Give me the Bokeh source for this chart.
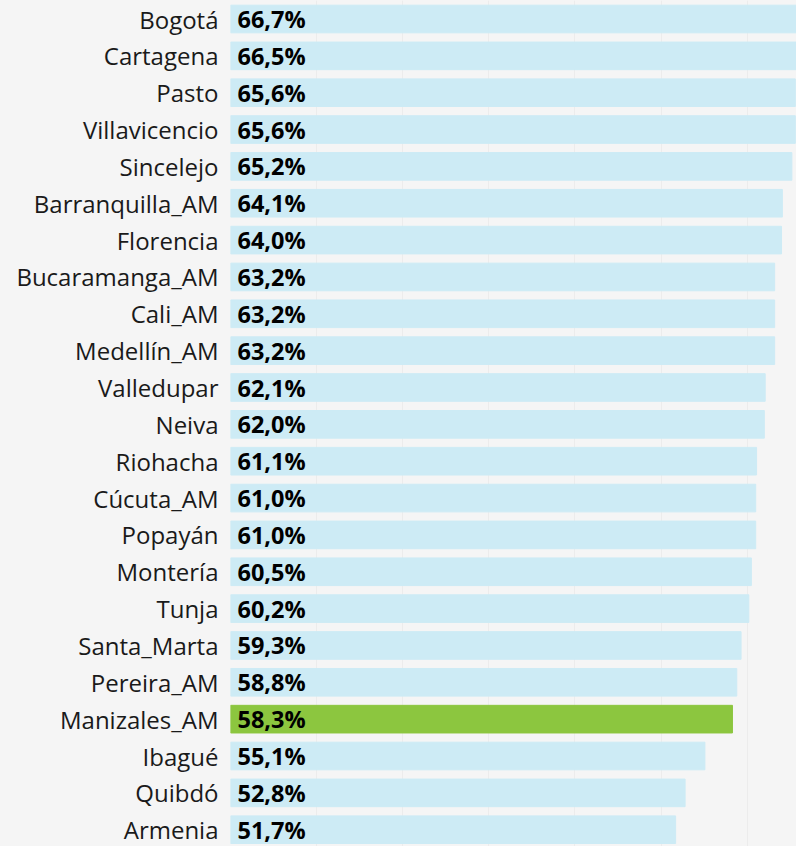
from bokeh.plotting import figure
from bokeh.models import ColumnDataSource, Range1d, FixedTicker, SingleIntervalTicker
from bokeh.core.properties import value
from bokeh.embed import file_html
from bokeh.resources import INLINE

cities = ["Bogotá", "Cartagena", "Pasto", "Villavicencio", "Sincelejo",
          "Barranquilla_AM", "Florencia", "Bucaramanga_AM", "Cali_AM",
          "Medellín_AM", "Valledupar", "Neiva", "Riohacha", "Cúcuta_AM",
          "Popayán", "Montería", "Tunja", "Santa_Marta", "Pereira_AM",
          "Manizales_AM", "Ibagué", "Quibdó", "Armenia"]
values = [66.7, 66.5, 65.6, 65.6, 65.2, 64.1, 64.0, 63.2, 63.2, 63.2, 62.1,
          62.0, 61.1, 61.0, 61.0, 60.5, 60.2, 59.3, 58.8, 58.3, 55.1, 52.8, 51.7]
highlight = "Manizales_AM"

BG = "#f5f5f5"
BLUE = "#cdebf5"
GREEN = "#8cc63f"

ys = list(range(len(cities)))
labels = [f"{v:.1f}".replace(".", ",") + "%" for v in values]
colors = [GREEN if c == highlight else BLUE for c in cities]

source = ColumnDataSource(dict(y=ys, value=values, label=labels, color=colors, city=cities))

W, H = 796, 846
LEFT = 230
pitch = 36.85
top = -18.5 / pitch
bottom = top + H / pitch

p = figure(width=W, height=H, output_backend="svg", toolbar_location=None,
           x_range=Range1d(0, (W - LEFT) / 8.61), y_range=Range1d(bottom, top),
           min_border_left=LEFT, min_border_right=0, min_border_top=0, min_border_bottom=0)

p.hbar(y="y", left=0, right="value", height=0.75, color="color", source=source)
p.text(x=0, y="y", text="label", x_offset=7, y_offset=0, text_baseline="middle",
       text_font=value("Open Sans"), text_font_style="bold", text_font_size="23.5px",
       text_color="#000000", source=source)

p.background_fill_color = BG
p.border_fill_color = BG
p.outline_line_color = None

p.xaxis.visible = False
p.xgrid.ticker = SingleIntervalTicker(interval=10)
p.xgrid.grid_line_color = "#ececec"
p.xgrid.grid_line_width = 1
p.ygrid.grid_line_color = None

p.yaxis.ticker = FixedTicker(ticks=ys)
p.yaxis.major_label_overrides = {i: c for i, c in zip(ys, cities)}
p.yaxis.axis_line_color = None
p.yaxis.major_tick_line_color = None
p.yaxis.minor_tick_line_color = None
p.yaxis.major_tick_out = 0
p.yaxis.major_tick_in = 0
p.yaxis.major_label_standoff = 12
p.yaxis.major_label_text_font = "Open Sans"
p.yaxis.major_label_text_font_size = "24px"
p.yaxis.major_label_text_color = "#1a1a1a"

html = file_html(p, INLINE)
html = html.replace("<head>", "<head><style>body{background:#f5f5f5;}</style>", 1)
open("out.html", "w").write(html)
